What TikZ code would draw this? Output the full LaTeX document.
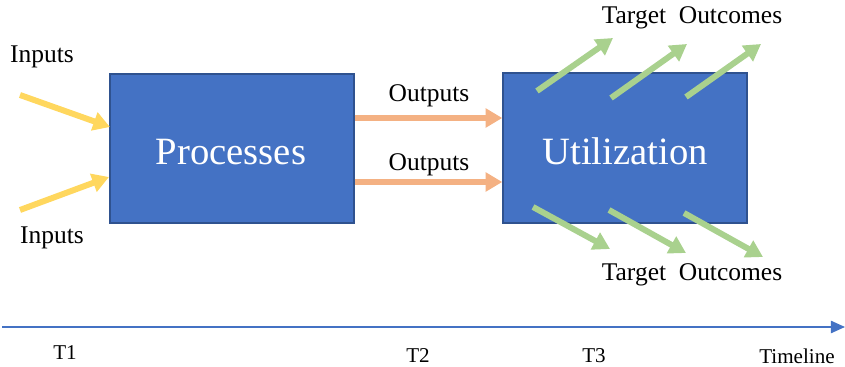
\documentclass[tikz,border=0pt]{standalone}
\usepackage{fontspec}
\setmainfont{Liberation Serif}
\usetikzlibrary{arrows.meta}
\definecolor{boxblue}{HTML}{4472C4}
\definecolor{boxedge}{HTML}{2F528F}
\definecolor{inyellow}{HTML}{FFD75E}
\definecolor{outorange}{HTML}{F4B183}
\definecolor{goalgreen}{HTML}{A9D18E}
\begin{document}
\begin{tikzpicture}[
    x=0.02cm,y=-0.02cm,
    font=\fontsize{14.5}{17}\selectfont,
    stage/.style={draw=boxedge,fill=boxblue,line width=.8pt,text=white,
      font=\fontsize{22}{26}\selectfont},
    flow/.style={line width=3.4pt,-{Triangle[length=9.5pt,width=10.5pt]}},
    input/.style={flow,inyellow},
    output/.style={flow,outorange},
    outcome/.style={flow,goalgreen},
    tick/.style={font=\fontsize{12}{14}\selectfont}
  ]
    \useasboundingbox (0,0) rectangle (845,367);

    % The two stages.
    \node[stage,minimum width=244*0.02cm,minimum height=149*0.02cm] (proc)
      at (232,148.5) {};
    \node[stage,minimum width=244*0.02cm,minimum height=150*0.02cm] (util)
      at (625,148) {};
    \node[text=white,font=\fontsize{22}{26}\selectfont] (proctext) at (231,152) {Processes};
    \node[text=white,font=\fontsize{22}{26}\selectfont] (utiltext) at (625,151) {Utilization};

    % Inputs enter the process box from the left.
    \coordinate (in1) at (20,95);
    \coordinate (in2) at (20,210);
    \coordinate (in1e) at (110,127);
    \coordinate (in2e) at (109,177);
    \draw[input] (in1)--(in1e);
    \draw[input] (in2)--(in2e);
    \node (inputs1) at (42,57) {Inputs};
    \node (inputs2) at (52,238) {Inputs};

    % Outputs pass from one stage to the next.
    \coordinate (o1) at (0,118);
    \coordinate (o2) at (0,182);
    \draw[output] (proc.east|-o1)--(util.west|-o1);
    \draw[output] (proc.east|-o2)--(util.west|-o2);
    \node (outputs1) at (429,96) {Outputs};
    \node (outputs2) at (429,165) {Outputs};

    % Target outcomes leave the utilization box.
    \foreach \i/\sx/\sy/\ex/\ey in {1/537/91/613/38,2/611/98/687/44,3/686/97/761/44}
      {\coordinate (up\i) at (\sx,\sy);
       \coordinate (upe\i) at (\ex,\ey);
       \draw[outcome] (up\i)--(upe\i);}
    \foreach \i/\sx/\sy/\ex/\ey in {1/533/207/610/249,2/609/210/686/253,3/684/213/763/257}
      {\coordinate (dn\i) at (\sx,\sy);
       \coordinate (dne\i) at (\ex,\ey);
       \draw[outcome] (dn\i)--(dne\i);}
    \node (target1) at (692,18) {Target\ \ Outcomes};
    \node (target2) at (692,275) {Target\ \ Outcomes};

    % Timeline.
    \coordinate (tl0) at (2,327);
    \coordinate (tl1) at (845,327);
    \draw[boxblue,line width=.8pt,-{Triangle[length=8pt,width=7pt]}] (tl0)--(tl1);
    \node[tick] (t1) at (65,353) {T1};
    \node[tick] (t2) at (418,356) {T2};
    \node[tick] (t3) at (594,356) {T3};
    \node[tick] (tline) at (797,356) {Timeline};
  \end{tikzpicture}
\end{document}
